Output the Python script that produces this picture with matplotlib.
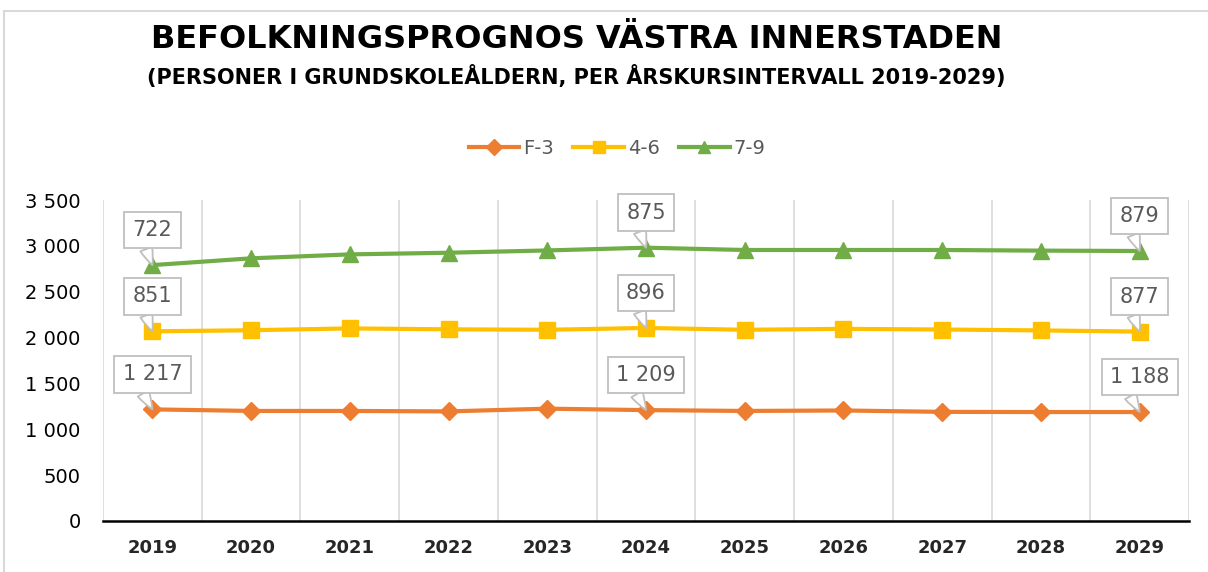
import matplotlib

matplotlib.use("Agg")

import matplotlib.pyplot as plt
import numpy as np
from matplotlib.lines import Line2D
from matplotlib.ticker import FuncFormatter

years = [2019, 2020, 2021, 2022, 2023, 2024, 2025, 2026, 2027, 2028, 2029]
f_3 = [1217, 1200, 1200, 1195, 1225, 1209, 1200, 1205, 1190, 1188, 1188]
g_4_6 = [851, 880, 900, 895, 860, 896, 885, 890, 898, 890, 877]
g_7_9 = [722, 784, 807, 835, 865, 875, 870, 860, 867, 870, 879]
series_names = ["F-3", "4-6", "7-9"]
labelled_years = [2019, 2024, 2029]

COLOURS = ["#ED7D31", "#FFC000", "#70AD47"]
MARKERS = ["D", "s", "^"]
MSIZES = [9, 11, 11]

fig = plt.figure(figsize=(12.08, 5.72), dpi=100)
# light grey chart border (top and left only, the rest is cut off)
fig.lines.append(Line2D([4 / 1208, 1.0], [1 - 11 / 572] * 2, transform=fig.transFigure,
                        color="#d9d9d9", lw=1.5))
fig.lines.append(Line2D([4 / 1208] * 2, [0, 1 - 11 / 572], transform=fig.transFigure,
                        color="#d9d9d9", lw=1.5))

ax = fig.add_axes((103 / 1208, 1 - 521 / 572, 1086 / 1208, 321 / 572))

x = np.arange(len(years))
values = [np.array(f_3), np.array(g_4_6), np.array(g_7_9)]
stacked = np.cumsum(values, axis=0)

for n, (name, colour) in enumerate(zip(series_names, COLOURS)):
    ax.plot(x, stacked[n], color=colour, lw=3, marker=MARKERS[n],
            ms=MSIZES[n], label=name, zorder=3)
    # callout labels with the series' own value
    for yr in labelled_years:
        i = years.index(yr)
        v = values[n][i]
        txt = f"{v:,}".replace(",", " ")
        ax.annotate(
            txt, (x[i], stacked[n][i]), xytext=(0, 18), textcoords="offset points",
            ha="center", va="bottom", fontsize=15, color="#595959",
            bbox=dict(boxstyle="square,pad=0.4", fc="white", ec="#bfbfbf", lw=1.3),
            arrowprops=dict(arrowstyle="wedge,tail_width=0.6,shrink_factor=0.6",
                            fc="white", ec="#bfbfbf", lw=1.3, shrinkA=0, shrinkB=0,
                            relpos=(0.25, 0.05)),
            zorder=5,
        )

ax.set_xlim(-0.5, len(years) - 0.5)
ax.set_ylim(0, 3500)
ax.set_yticks(np.arange(0, 3501, 500))
ax.yaxis.set_major_formatter(FuncFormatter(lambda v, p: f"{int(v):,}".replace(",", " ")))
ax.set_xticks(x)
ax.set_xticklabels([str(y) for y in years], fontsize=13, fontweight="bold", color="#262626")
ax.set_xticks(np.arange(-0.5, len(years)), minor=True)
ax.grid(which="minor", axis="x", color="#d9d9d9", lw=1.2)
ax.tick_params(axis="x", which="both", length=0, pad=13)
ax.tick_params(axis="y", length=0, labelsize=14, pad=16, labelcolor="black")
for side in ["top", "right", "left"]:
    ax.spines[side].set_visible(False)
ax.spines["bottom"].set_color("black")
ax.spines["bottom"].set_linewidth(1.8)

leg = fig.legend(loc="center", bbox_to_anchor=(617 / 1208, 1 - 148 / 572), ncol=3,
                 frameon=False, fontsize=14, handlelength=2.6, columnspacing=1.0,
                 handletextpad=0.2, markerscale=0.85)
for t in leg.get_texts():
    t.set_color("#595959")

fig.text(577 / 1208, 1 - 40 / 572, "BEFOLKNINGSPROGNOS VÄSTRA INNERSTADEN",
         ha="center", va="center", fontsize=23, fontweight="bold")
fig.text(576 / 1208, 1 - 76 / 572,
         "(PERSONER I GRUNDSKOLEÅLDERN, PER ÅRSKURSINTERVALL 2019-2029)",
         ha="center", va="center", fontsize=15, fontweight="bold")

fig.savefig("out.png", dpi=100)
